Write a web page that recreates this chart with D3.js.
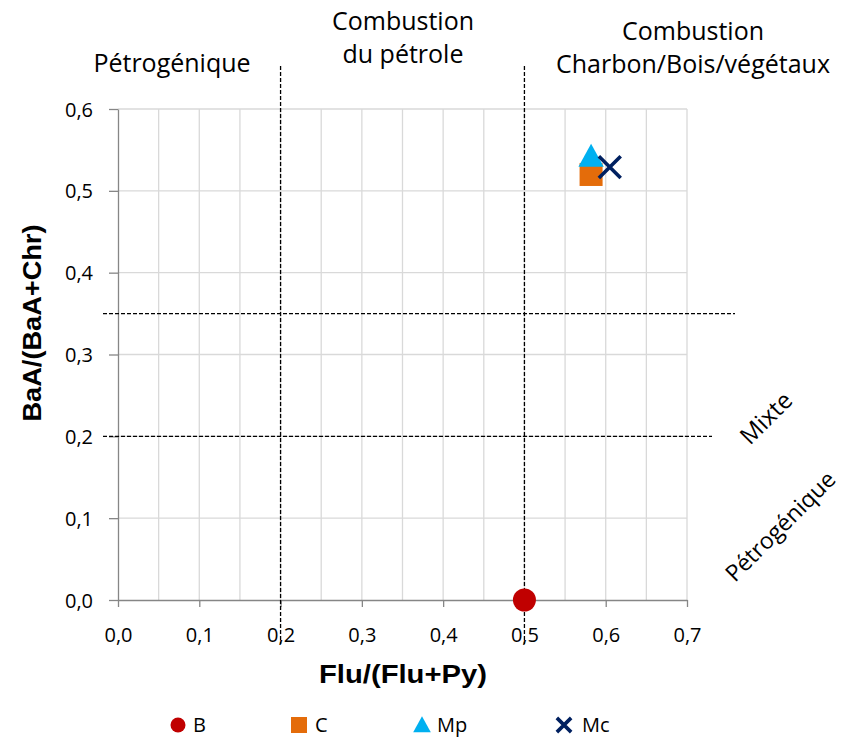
<!DOCTYPE html>
<html>
<head>
<meta charset="utf-8">
<title>BaA/(BaA+Chr) vs Flu/(Flu+Py)</title>
<script src="https://cdn.jsdelivr.net/npm/d3@7"></script>
<style>
  body { margin: 0; background: #fff; }
  svg text { font-family: "Open Sans", "Noto Sans", sans-serif; fill: #000; }
</style>
</head>
<body>
<div id="chart"></div>
<script>
// data
const series = ["B", "C", "Mp", "Mc"];
const xValues = [0.50, 0.582, 0.582, 0.605];
const yValues = [0.0, 0.52, 0.542, 0.529];
const colors = ["#c00000", "#e46c0a", "#00b0f0", "#002060"];
const shapes = ["circle", "square", "triangle", "cross"];

const xTicks = [0, 0.1, 0.2, 0.3, 0.4, 0.5, 0.6, 0.7];
const yTicks = [0, 0.1, 0.2, 0.3, 0.4, 0.5, 0.6];
const xGrid = d3.range(0, 0.7001, 0.05);
const xThresholds = [0.2, 0.5];
const yThresholds = [0.2, 0.35];

const width = 850, height = 738;
const margin = { top: 109, right: 163, bottom: 138, left: 118 };

const svg = d3.select("#chart").append("svg")
  .attr("width", width).attr("height", height);

const x = d3.scaleLinear().domain([0, 0.7]).range([margin.left, width - margin.right]);
const y = d3.scaleLinear().domain([0, 0.6]).range([height - margin.bottom, margin.top]);

const fmt = d => d3.format(".1f")(d).replace(".", ",");

// grid
svg.append("g").selectAll("line").data(xGrid.slice(1)).join("line")
  .attr("x1", d => x(d)).attr("x2", d => x(d))
  .attr("y1", y(0)).attr("y2", y(0.6))
  .attr("stroke", "#d9d9d9").attr("stroke-width", 1.3);
svg.append("g").selectAll("line").data(yTicks.slice(1)).join("line")
  .attr("x1", x(0)).attr("x2", x(0.7))
  .attr("y1", d => y(d)).attr("y2", d => y(d))
  .attr("stroke", "#d9d9d9").attr("stroke-width", 1.3);

// axes
const xAxis = svg.append("g")
  .attr("transform", `translate(0,${y(0)})`)
  .call(d3.axisBottom(x).tickValues(xTicks).tickFormat(fmt).tickSize(7).tickSizeOuter(0));
const yAxis = svg.append("g")
  .attr("transform", `translate(${x(0)},0)`)
  .call(d3.axisLeft(y).tickValues(yTicks).tickFormat(fmt).tickSize(9).tickSizeOuter(0));
[xAxis, yAxis].forEach(g => {
  g.selectAll(".domain, line").attr("stroke", "#868686").attr("stroke-width", 1.3);
  g.selectAll("text").attr("font-size", 20).attr("fill", "#000")
    .style("font-family", "'Open Sans', sans-serif");
});
xAxis.selectAll("text").attr("y", 42).attr("dy", null);
yAxis.selectAll("text").attr("x", -25).attr("dy", "0.35em");

// threshold lines
svg.append("g").selectAll("line").data(xThresholds).join("line")
  .attr("x1", d => x(d)).attr("x2", d => x(d))
  .attr("y1", 66).attr("y2", 644)
  .attr("stroke", "#000").attr("stroke-width", 1.3).attr("stroke-dasharray", "4,2");
svg.append("g").selectAll("line").data(yThresholds).join("line")
  .attr("x1", 103).attr("x2", d => d === 0.35 ? 735 : 712)
  .attr("y1", d => y(d)).attr("y2", d => y(d))
  .attr("stroke", "#000").attr("stroke-width", 1.1).attr("stroke-dasharray", "4,2");

// markers
function drawMarker(g, shape, color, size) {
  if (shape === "circle") {
    g.append("circle").attr("r", size * 0.5).attr("fill", color);
  } else if (shape === "square") {
    g.append("rect").attr("x", -size / 2).attr("y", -size / 2)
      .attr("width", size).attr("height", size).attr("fill", color);
  } else if (shape === "triangle") {
    const s = size;
    g.append("path").attr("d", `M0,${-s * 0.55}L${s * 0.55},${s * 0.45}L${-s * 0.55},${s * 0.45}Z`)
      .attr("fill", color);
  } else {
    const s = size * 0.42;
    g.append("path").attr("d", `M${-s},${-s}L${s},${s}M${-s},${s}L${s},${-s}`)
      .attr("stroke", color).attr("stroke-width", 3.6).attr("fill", "none");
  }
}
const pts = series.map((s, i) => ({ s, x: xValues[i], y: yValues[i], c: colors[i], shape: shapes[i] }));
const plotSizes = { circle: 23, square: 23, triangle: 23, cross: 26 };
pts.forEach(p => {
  const g = svg.append("g").attr("transform", `translate(${x(p.x)},${y(p.y)})`);
  drawMarker(g, p.shape, p.c, plotSizes[p.shape]);
});

// axis titles
svg.append("text").attr("x", 403).attr("y", 683).attr("text-anchor", "middle")
  .attr("font-size", 26).attr("font-weight", "bold")
  .attr("textLength", 168).attr("lengthAdjust", "spacingAndGlyphs")
  .style("font-family", "'Liberation Sans', Arial, sans-serif")
  .text("Flu/(Flu+Py)");
svg.append("text").attr("transform", "translate(41,323) rotate(-90)")
  .attr("text-anchor", "middle").attr("font-size", 26).attr("font-weight", "bold")
  .attr("textLength", 197).attr("lengthAdjust", "spacingAndGlyphs")
  .style("font-family", "'Liberation Sans', Arial, sans-serif")
  .text("BaA/(BaA+Chr)");

// zone labels
const zone = (tx, ty, lines) => {
  lines.forEach((l, i) => svg.append("text").attr("text-anchor", "middle")
    .attr("font-size", 25).attr("x", tx).attr("y", ty + i * 33).text(l));
};
zone(172, 72, ["Pétrogénique"]);
zone(403, 30, ["Combustion", "du pétrole"]);
zone(693, 40, ["Combustion", "Charbon/Bois/végétaux"]);
svg.append("text").attr("transform", "translate(772,424) rotate(-45)")
  .attr("text-anchor", "middle").attr("font-size", 24).text("Mixte");
svg.append("text").attr("transform", "translate(786,532) rotate(-45)")
  .attr("text-anchor", "middle").attr("font-size", 23).text("Pétrogénique");

// legend
const legendX = [178, 299, 422, 564];
const legendGap = [15, 16, 15, 18];
const legendSizes = { circle: 15, square: 16, triangle: 16, cross: 17 };
const legend = svg.append("g");
pts.forEach((p, i) => {
  const g = legend.append("g").attr("transform", `translate(${legendX[i]},725)`);
  drawMarker(g, p.shape, p.c, legendSizes[p.shape]);
  g.append("text").attr("x", legendGap[i]).attr("dy", "0.36em").attr("font-size", 20).text(p.s);
});
</script>
</body>
</html>
